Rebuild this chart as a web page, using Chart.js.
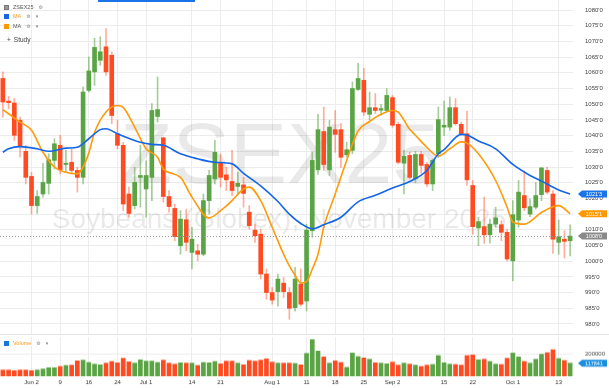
<!DOCTYPE html>
<html>
<head>
<meta charset="utf-8">
<script src="https://cdn.jsdelivr.net/npm/chart.js@4.4.1/dist/chart.umd.min.js"></script>
<style>
    html, body { margin: 0; padding: 0; background: #fff; }
    #wrap { position: relative; width: 609px; height: 388px; overflow: hidden; font-family: 'Liberation Sans', Arial, sans-serif; }
    canvas { position: absolute; left: 0; }
    #priceChart { top: 0; }
    #volChart { top: 334px; border-top: 1px solid #e4e4e4; }
    #topbar { position: absolute; left: 98px; top: 0; width: 97px; height: 2px; background: #1a73e8; }
    .leg { position: absolute; left: 4px; height: 8px; display: flex; align-items: center; white-space: nowrap; font-size: 5.5px; color: #555; z-index: 2; }
    .sq { width: 5px; height: 5px; margin-right: 4px; box-sizing: border-box; }
    .ic { color: #888; margin-left: 5px; font-family: 'DejaVu Sans'; font-size: 5px; }
</style>
</head>
<body>
<div id="wrap">
    <canvas id="priceChart" width="609" height="334"></canvas>
    <canvas id="volChart" width="609" height="54"></canvas>
    <div id="topbar"></div>
    <div class="leg" style="top:3px"><span class="sq" style="background:#999;border:1px solid #777"></span>ZSEX25<span class="ic">⚙</span></div>
    <div class="leg" style="top:12px"><span class="sq" style="background:#1565e8"></span><span style="color:#f39a1e">MA</span><span class="ic">⚙</span><span class="ic">▾</span></div>
    <div class="leg" style="top:22px"><span class="sq" style="background:#ff9800"></span>MA<span class="ic">⚙</span><span class="ic">▾</span></div>
    <div class="leg" style="top:35px;left:7px;font-size:6.5px;color:#444"><span style="margin-right:3px">+</span>Study</div>
    <div class="leg" style="top:339px"><span class="sq" style="background:#1576e0"></span><span style="color:#f39a1e">Volume</span><span class="ic">⚙</span><span class="ic">▾</span></div>
</div>
<script>
// daily candles, Soybeans Nov 2025 (late May -> mid Oct)
const open = [1058.2,1051.0,1050.4,1044.9,1035.0,1027.0,1017.7,1021.4,1024.8,1032.1,
    1036.9,1030.8,1031.5,1028.9,1026.7,1054.4,1060.3,1064.0,1068.3,1065.6,
    1040.6,1036.9,1021.4,1017.7,1026.7,1023.0,1026.7,1046.1,1039.3,1020.6,
    1016.8,1004.9,1013.2,1002.8,1003.3,1002.2,1019.3,1026.2,1031.2,1027.5,
    1025.4,1023.8,1024.3,1015.6,1009.9,1008.6,995.9,990.0,990.3,993.0,
    990.0,985.2,992.7,987.3,1009.7,1029.1,1041.3,1029.1,1041.9,1041.9,
    1033.9,1035.3,1054.7,1057.6,1046.8,1048.9,1048.1,1048.0,1052.1,1043.6,
    1031.2,1033.7,1026.2,1034.0,1030.8,1024.6,1034.2,1042.7,1042.7,1048.9,
    1043.6,1040.6,1024.1,1010.6,1011.0,1008.4,1011.8,1011.6,1009.2,1000.1,
    1013.1,1020.9,1015.0,1017.2,1021.2,1028.9,1021.4,1006.0,1007.0,1006.5];
const high = [1060.3,1052.5,1051.8,1045.9,1036.9,1028.3,1022.5,1031.2,1034.2,1039.0,
    1040.1,1035.3,1035.8,1029.9,1055.5,1065.1,1071.0,1071.5,1074.1,1066.7,
    1044.9,1037.9,1023.6,1029.9,1036.9,1032.0,1050.2,1058.7,1039.5,1022.5,
    1018.2,1016.1,1016.6,1010.8,1005.4,1021.4,1028.9,1038.5,1034.2,1029.9,
    1035.3,1028.3,1026.7,1017.7,1011.8,1010.2,997.5,991.6,995.9,994.8,
    991.6,998.0,997.5,1011.8,1034.7,1046.8,1049.1,1044.9,1048.0,1043.8,
    1037.9,1057.1,1063.0,1061.4,1053.9,1053.4,1050.0,1055.0,1052.8,1044.3,
    1035.3,1034.7,1035.0,1035.0,1031.5,1032.6,1049.1,1051.0,1052.3,1051.8,
    1044.3,1047.8,1025.7,1014.0,1020.4,1013.4,1017.2,1012.9,1010.2,1019.3,
    1025.7,1028.7,1019.8,1025.1,1029.9,1029.9,1022.5,1013.1,1009.7,1011.6];
const low = [1045.9,1048.5,1038.5,1033.1,1024.6,1015.0,1015.2,1020.4,1021.4,1029.4,
    1027.8,1028.3,1027.8,1022.0,1024.6,1053.9,1056.0,1062.4,1059.2,1043.8,
    1035.8,1016.1,1014.0,1016.6,1017.2,1014.0,1019.3,1044.3,1018.8,1015.6,
    1006.5,1002.2,1003.3,997.5,1000.1,1001.7,1015.0,1024.6,1023.6,1022.5,
    1020.9,1021.4,1017.2,1010.2,1006.0,994.3,987.9,986.3,985.7,988.4,
    981.5,984.1,985.7,984.1,1007.6,1027.6,1028.9,1027.3,1034.7,1029.9,
    1033.1,1034.2,1054.4,1046.4,1044.9,1047.0,1046.5,1047.5,1042.7,1031.0,
    1021.4,1026.2,1025.0,1028.0,1023.8,1022.5,1033.0,1040.0,1041.7,1043.3,
    1040.1,1024.1,1008.6,1004.9,1005.7,1005.7,1010.8,1006.5,1000.1,993.7,
    1010.8,1016.1,1014.2,1016.6,1019.3,1021.4,1002.5,1002.2,1001.0,1001.7];
const close = [1050.7,1050.5,1040.1,1036.5,1026.7,1017.7,1020.6,1025.1,1032.3,1037.4,
    1029.1,1031.2,1028.9,1026.7,1053.9,1060.6,1068.1,1066.7,1060.3,1046.4,
    1036.9,1018.2,1015.2,1025.1,1027.3,1027.3,1048.0,1048.3,1020.6,1017.4,
    1007.8,1013.4,1006.0,1007.0,1002.2,1019.3,1027.3,1034.7,1026.7,1025.9,
    1022.5,1024.8,1021.6,1011.3,1008.1,995.9,990.0,987.6,994.3,990.3,
    985.0,994.3,986.3,1009.9,1032.1,1041.9,1030.8,1042.7,1040.4,1033.1,
    1035.5,1055.0,1058.2,1047.5,1048.9,1048.0,1048.6,1052.8,1043.3,1031.5,
    1033.4,1026.7,1034.0,1030.5,1024.6,1032.1,1045.1,1043.3,1048.9,1043.8,
    1040.6,1025.9,1011.0,1012.6,1008.4,1011.8,1013.8,1009.2,1000.7,1014.8,
    1022.0,1017.0,1017.4,1020.9,1029.7,1022.0,1007.0,1007.8,1006.3,1008.0];
const volume = [56000,56000,50000,56000,56000,50000,56000,65000,77000,77000,
    88000,97000,100000,139000,145000,124000,109000,103000,118000,133000,
    121000,162000,130000,118000,148000,136000,136000,124000,145000,118000,
    109000,121000,118000,118000,97000,124000,121000,133000,112000,136000,
    136000,118000,103000,142000,136000,145000,156000,127000,118000,118000,
    118000,115000,103000,206000,330000,227000,174000,118000,139000,124000,
    80000,209000,177000,165000,153000,121000,118000,112000,127000,100000,
    118000,109000,100000,88000,100000,106000,186000,121000,109000,106000,
    100000,186000,192000,148000,153000,133000,109000,106000,162000,209000,
    174000,133000,118000,153000,198000,212000,239000,159000,142000,117841];

// moving averages, read at these candle positions
const maBlueAt = [0,1,3,6,8,11,13,15,17,18,20,24,26,28,31,34,37,40,42,45,48,50,52,54,56,59,62,65,68,71,74,76,77,80,81,83,86,89,92,94,97,99];
const maBlueVal = [1034.7,1035.8,1036.5,1035.8,1035.0,1036.0,1036.3,1039.0,1041.9,1042.2,1040.6,1037.9,1037.2,1036.9,1034.2,1032.6,1031.5,1031.0,1028.0,1024.0,1019.0,1015.0,1012.0,1010.3,1011.6,1014.0,1018.9,1021.0,1023.3,1025.4,1028.9,1034.2,1035.5,1040.4,1040.2,1038.3,1035.8,1030.8,1027.3,1025.5,1022.7,1021.4];
const maOrangeAt = [0,3,5,7,9,11,13,14,15,16,18,20,21,23,25,27,28,31,33,36,38,40,42,43,45,47,49,50,51,52,53,54,55,56,58,60,62,64,66,68,69,71,72,74,76,78,80,81,83,86,88,89,91,94,96,97,99];
const maOrangeVal = [1048.3,1044.3,1041.7,1034.7,1030.0,1028.3,1027.8,1030.0,1034.5,1041.0,1047.5,1049.6,1049.0,1042.7,1035.8,1033.1,1029.4,1026.7,1020.4,1013.8,1016.1,1019.3,1023.0,1023.6,1019.3,1010.8,1002.2,998.5,995.5,993.0,993.5,997.5,1002.2,1010.8,1021.4,1032.1,1041.5,1044.5,1046.8,1048.0,1047.5,1042.0,1040.1,1036.3,1033.5,1035.8,1038.0,1037.6,1034.2,1025.7,1017.2,1012.5,1011.8,1015.5,1017.3,1017.7,1015.1];

const tickIdx = [5, 10, 15, 20, 25, 33, 38, 47, 53, 58, 63, 68, 77, 82, 89, 97];
const tickText = ['Jun 2', '9', '16', '24', 'Jul 1', '14', '21', 'Aug 1', '11', '18', '25', 'Sep 2', '15', '22', 'Oct 1', '13'];
const priceTicks = [980, 985, 990, 995, 1000, 1005, 1010, 1015, 1020, 1025, 1030, 1035, 1040, 1045, 1050, 1055, 1060, 1065, 1070, 1075, 1080];
const volumeTicks = [200000];

const UP = '#5aa445';
const DOWN = '#ff4b22';
const FONT = "'Liberation Sans', Arial, sans-serif";

const labels = open.map(() => '');
tickIdx.forEach((idx, k) => { labels[idx] = tickText[k]; });

function spread(at, val) {
    const out = open.map(() => null);
    at.forEach((idx, k) => { out[idx] = val[k]; });
    return out;
}

function fmtPrice(v) {
    let whole = Math.floor(v);
    let eighth = Math.round((v - whole) * 8);
    if (eighth === 8) { whole += 1; eighth = 0; }
    return whole + "'" + eighth;
}

// keep the plot area flush with the canvas edges
function noPad(scale) {
    scale.paddingTop = 0;
    scale.paddingBottom = 0;
    scale.paddingLeft = 0;
    scale.paddingRight = 0;
}

const isUp = open.map((o, i) => close[i] >= o);
const bodyColors = isUp.map(u => u ? UP : DOWN);
const wickColors = isUp.map(u => u ? 'rgba(90,164,69,0.55)' : 'rgba(255,75,34,0.45)');

const gridColor = (ctx) => labels[ctx.index] ? '#ececec' : 'rgba(0,0,0,0)';

function drawBadge(ctx, y, text, color) {
    ctx.save();
    ctx.fillStyle = color;
    ctx.beginPath();
    ctx.moveTo(578, y);
    ctx.lineTo(582, y - 3.5);
    ctx.lineTo(607, y - 3.5);
    ctx.lineTo(607, y + 3.5);
    ctx.lineTo(582, y + 3.5);
    ctx.closePath();
    ctx.fill();
    ctx.fillStyle = '#fff';
    ctx.font = '5.5px ' + FONT;
    ctx.textAlign = 'center';
    ctx.textBaseline = 'middle';
    ctx.fillText(text, 594, y + 0.5);
    ctx.restore();
}

const watermark = {
    id: 'watermark',
    beforeDatasetsDraw(chart) {
        const ctx = chart.ctx;
        ctx.save();
        ctx.fillStyle = 'rgba(0,0,0,0.085)';
        ctx.textAlign = 'center';
        ctx.textBaseline = 'alphabetic';
        ctx.font = '86px ' + FONT;
        ctx.fillText('ZSEX25', 280, 183);
        ctx.font = '28px ' + FONT;
        ctx.fillText('Soybeans (Globex), November 2025', 279, 228);
        ctx.restore();
    }
};

const priceMarkers = {
    id: 'priceMarkers',
    afterDatasetsDraw(chart) {
        const ctx = chart.ctx;
        const y = chart.scales.y.getPixelForValue(close[close.length - 1]);
        ctx.save();
        ctx.strokeStyle = '#9a9a9a';
        ctx.lineWidth = 1;
        ctx.setLineDash([1, 2]);
        ctx.beginPath();
        ctx.moveTo(chart.chartArea.left, Math.round(y) + 0.5);
        ctx.lineTo(chart.chartArea.right, Math.round(y) + 0.5);
        ctx.stroke();
        ctx.restore();
    },
    afterDraw(chart) {
        const s = chart.scales.y;
        const blue = maBlueVal[maBlueVal.length - 1];
        const orange = maOrangeVal[maOrangeVal.length - 1];
        const last = close[close.length - 1];
        drawBadge(chart.ctx, s.getPixelForValue(blue), fmtPrice(blue), '#1a73e8');
        drawBadge(chart.ctx, s.getPixelForValue(orange), fmtPrice(orange), '#ff9800');
        drawBadge(chart.ctx, s.getPixelForValue(last), fmtPrice(last), '#8a8a8a');
    }
};

const volumeMarker = {
    id: 'volumeMarker',
    afterDraw(chart) {
        const last = volume[volume.length - 1];
        drawBadge(chart.ctx, chart.scales.y.getPixelForValue(last), String(last), '#1a8fe0');
    }
};

new Chart(document.getElementById('priceChart').getContext('2d'), {
    type: 'bar',
    data: {
        labels: labels,
        datasets: [
            {
                type: 'line',
                data: spread(maBlueAt, maBlueVal),
                borderColor: '#1565e8',
                borderWidth: 1.6,
                pointRadius: 0,
                spanGaps: true,
                cubicInterpolationMode: 'monotone',
                order: 0
            },
            {
                type: 'line',
                data: spread(maOrangeAt, maOrangeVal),
                borderColor: '#ff9a0a',
                borderWidth: 1.6,
                pointRadius: 0,
                spanGaps: true,
                cubicInterpolationMode: 'monotone',
                order: 1
            },
            {
                data: open.map((o, i) => [Math.min(o, close[i]), Math.max(o, close[i])]),
                backgroundColor: bodyColors,
                barThickness: 4,
                minBarLength: 1,
                grouped: false,
                order: 2
            },
            {
                data: low.map((l, i) => [l, high[i]]),
                backgroundColor: wickColors,
                barThickness: 1,
                grouped: false,
                order: 3
            }
        ]
    },
    options: {
        responsive: false,
        devicePixelRatio: 1,
        animation: false,
        layout: { padding: 0, autoPadding: false },
        plugins: { legend: { display: false }, tooltip: { enabled: false } },
        scales: {
            x: {
                offset: true,
                grid: { offset: false, color: gridColor, drawTicks: false },
                border: { display: false },
                ticks: { display: false, autoSkip: false },
                afterFit(scale) { scale.height = 0; noPad(scale); }
            },
            y: {
                position: 'right',
                min: 976.8,
                max: 1083.2,
                afterBuildTicks(scale) { scale.ticks = priceTicks.map(v => ({ value: v })); },
                grid: { color: '#ececec', drawTicks: false },
                border: { display: false },
                ticks: {
                    padding: 12,
                    color: '#444',
                    font: { size: 6, family: FONT },
                    callback: (v) => fmtPrice(v)
                },
                afterFit(scale) { scale.width = 36; noPad(scale); }
            }
        }
    },
    plugins: [watermark, priceMarkers]
});

new Chart(document.getElementById('volChart').getContext('2d'), {
    type: 'bar',
    data: {
        labels: labels,
        datasets: [{
            data: volume,
            backgroundColor: bodyColors,
            barThickness: 4
        }]
    },
    options: {
        responsive: false,
        devicePixelRatio: 1,
        animation: false,
        layout: { padding: { top: 2, left: 0, right: 0, bottom: 0 }, autoPadding: false },
        plugins: { legend: { display: false }, tooltip: { enabled: false } },
        scales: {
            x: {
                offset: true,
                grid: { offset: false, color: gridColor, drawTicks: false },
                border: { display: false },
                ticks: {
                    autoSkip: false,
                    maxRotation: 0,
                    padding: 3,
                    color: '#333',
                    font: { size: 6, family: FONT }
                },
                afterFit(scale) { scale.height = 12; noPad(scale); }
            },
            y: {
                position: 'right',
                min: 0,
                max: 354000,
                afterBuildTicks(scale) { scale.ticks = volumeTicks.map(v => ({ value: v })); },
                grid: { color: '#ececec', drawTicks: false },
                border: { display: false },
                ticks: {
                    padding: 12,
                    color: '#444',
                    font: { size: 6, family: FONT },
                    callback: (v) => String(v)
                },
                afterFit(scale) { scale.width = 36; noPad(scale); }
            }
        }
    },
    plugins: [volumeMarker]
});
</script>
</body>
</html>
